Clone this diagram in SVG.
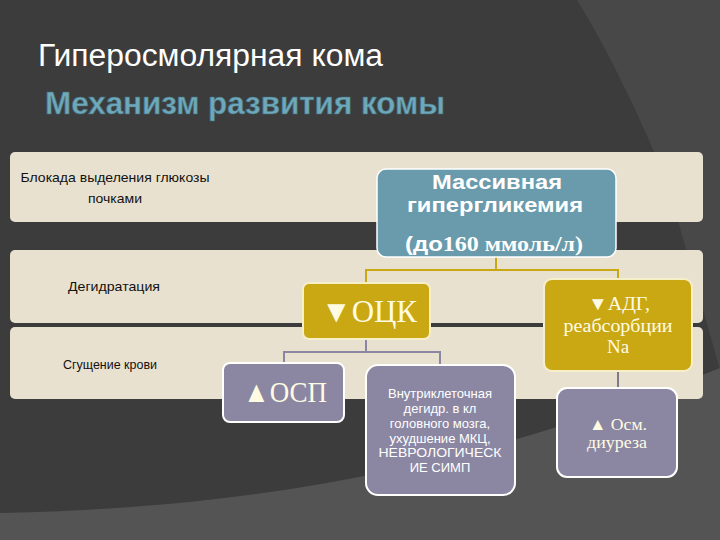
<svg xmlns="http://www.w3.org/2000/svg" width="720" height="540" viewBox="0 0 720 540">
<style>
.band{fill:#e9e1cf;}
.bt{font-family:"Liberation Sans",Arial,sans-serif;font-size:13px;fill:#111;text-anchor:middle;}
.gold{fill:#c9a814;stroke:#f6efc8;stroke-width:2;}
.purp{fill:#8b87a3;stroke:#ffffff;stroke-width:2;}
.blue{fill:#6a9bac;stroke:#ffffff;stroke-width:1.5;}
.serif{font-family:"Liberation Serif","Times New Roman",serif;text-anchor:middle;fill:#fffbe2;}
.sans{font-family:"Liberation Sans",Arial,sans-serif;text-anchor:middle;fill:#ffffff;}
.cg{fill:none;stroke:#c9a814;stroke-width:2;}
.cp{fill:none;stroke:#8b87a3;stroke-width:2;}
</style>
<rect x="0" y="0" width="720" height="540" fill="#3c3c3c"/>
<path d="M577,0 C605,45 640,115 668,185 L720,370 L720,0 Z" fill="#484848"/>
<path d="M0,513 C250,508 470,470 720,368 L720,540 L0,540 Z" fill="#545454"/>
<text x="38" y="66" font-family="'Liberation Sans',Arial,sans-serif" font-size="31" fill="#ffffff" textLength="345" lengthAdjust="spacingAndGlyphs">Гиперосмолярная кома</text>
<text x="45" y="114" font-family="'Liberation Sans',Arial,sans-serif" font-size="32" font-weight="bold" fill="#6ea8ba" stroke="#3f6f7d" stroke-width="0.6" textLength="400" lengthAdjust="spacingAndGlyphs">Механизм развития комы</text>
<g id="bands">
<rect class="band" x="10" y="152" width="693" height="70" rx="5"/>
<rect class="band" x="10" y="250" width="693" height="73" rx="5"/>
<rect class="band" x="10" y="327" width="693" height="72" rx="5"/>
<text class="bt" x="115" y="182" textLength="189" lengthAdjust="spacingAndGlyphs">Блокада выделения глюкозы</text>
<text class="bt" x="115" y="203" textLength="54" lengthAdjust="spacingAndGlyphs">почками</text>
<text class="bt" x="114" y="291" textLength="92" lengthAdjust="spacingAndGlyphs">Дегидратация</text>
<text class="bt" x="110" y="369" textLength="94" lengthAdjust="spacingAndGlyphs">Сгущение крови</text>
</g>
<g id="connectors">
<path class="cg" d="M496,257 V270 M366,283 V270 H618 V279"/>
<path class="cp" d="M366,339 V352 M284,363 V352 H440 V365"/>
<path d="M618,371 V388" fill="none" stroke="#7d7a8a" stroke-width="2"/>
</g>
<g id="node-hyperglycemia">
<rect class="blue" x="377" y="169" width="239" height="88" rx="9"/>
<text class="sans" x="497" y="189" font-size="20" font-weight="bold" textLength="130" lengthAdjust="spacingAndGlyphs">Массивная</text>
<text class="sans" x="495" y="212" font-size="20" font-weight="bold" textLength="176" lengthAdjust="spacingAndGlyphs">гипергликемия</text>
<text x="494" y="251" text-anchor="middle" fill="#ffffff" font-size="20" font-weight="bold" textLength="178" lengthAdjust="spacingAndGlyphs"><tspan font-family="'Liberation Sans',Arial,sans-serif">(до</tspan><tspan font-family="'Liberation Serif','Times New Roman',serif">160 ммоль/л)</tspan></text>
</g>
<g id="node-ock">
<rect class="gold" x="303" y="283" width="127" height="56" rx="6"/>
<text class="serif" x="369" y="322" font-size="31" textLength="96" lengthAdjust="spacingAndGlyphs">▼ОЦК</text>
</g>
<g id="node-adg">
<rect class="gold" x="544" y="279" width="148" height="92" rx="8"/>
<text class="serif" x="619" y="310" font-size="19" textLength="62" lengthAdjust="spacingAndGlyphs">▼АДГ,</text>
<text class="serif" x="618" y="332" font-size="19" textLength="109" lengthAdjust="spacingAndGlyphs">реабсорбции</text>
<text class="serif" x="618" y="353" font-size="19">Na</text>
</g>
<g id="node-osp">
<rect class="purp" x="223" y="363" width="121" height="59" rx="7"/>
<text class="serif" x="285" y="402" font-size="30" fill="#ffffff" textLength="84" lengthAdjust="spacingAndGlyphs">▲ОСП</text>
</g>
<g id="node-intracell">
<rect class="purp" x="366" y="365" width="149" height="130" rx="12"/>
<text class="sans" x="440" y="398" font-size="13">Внутриклеточная</text>
<text class="sans" x="440" y="413" font-size="13">дегидр. в кл</text>
<text class="sans" x="440" y="428" font-size="13">головного мозга,</text>
<text class="sans" x="440" y="443" font-size="13">ухудшение МКЦ,</text>
<text class="sans" x="440" y="457" font-size="13" textLength="123" lengthAdjust="spacingAndGlyphs">НЕВРОЛОГИЧЕСК</text>
<text class="sans" x="440" y="472" font-size="13">ИЕ СИМП</text>
</g>
<g id="node-diuresis">
<rect class="purp" x="557" y="388" width="120" height="89" rx="10"/>
<text class="serif" x="618" y="430" font-size="17" fill="#ffffff" textLength="58" lengthAdjust="spacingAndGlyphs">▲ Осм.</text>
<text class="serif" x="617" y="448" font-size="17" fill="#ffffff" textLength="60" lengthAdjust="spacingAndGlyphs">диуреза</text>
</g>
</svg>
